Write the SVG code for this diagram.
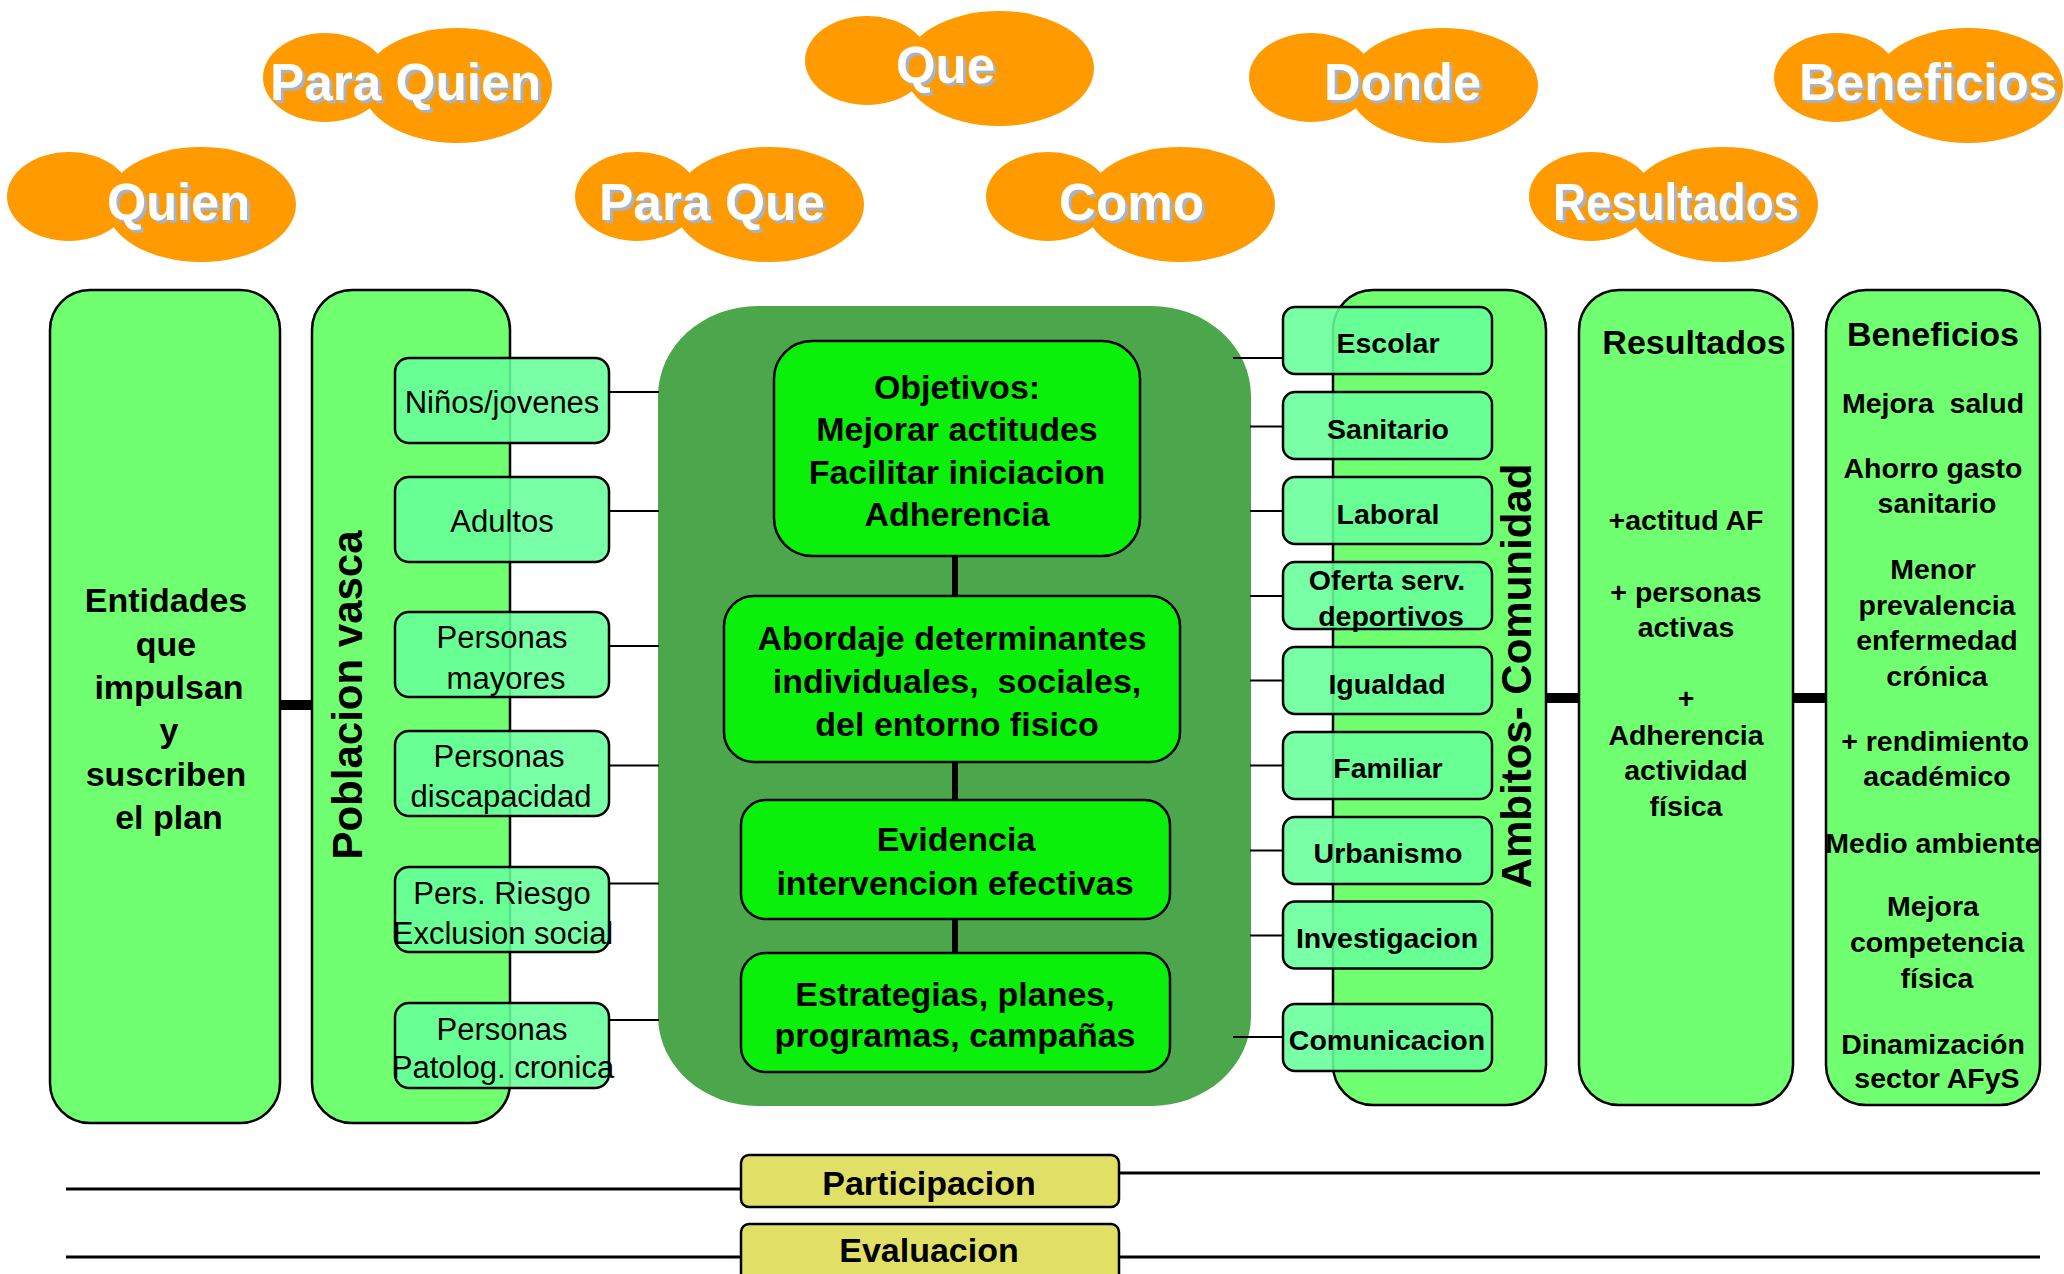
<svg xmlns="http://www.w3.org/2000/svg" xmlns:xlink="http://www.w3.org/1999/xlink" width="2064" height="1274" viewBox="0 0 2064 1274">
<style>
.cloud{fill:#ff9b00}
.ct{font-family:"Liberation Sans",Arial,sans-serif;font-weight:bold;font-size:52px;fill:#ffffff}
.cs{font-family:"Liberation Sans",Arial,sans-serif;font-weight:bold;font-size:52px;fill:#a9b2c4}
.main{fill:#70ff70;stroke:#000;stroke-width:2.5}
.sub{fill:#66ff99;fill-opacity:0.88;stroke:#000;stroke-width:2.5}
.inner{fill:#0af00a;stroke:#000;stroke-width:2.5}
.big{fill:#4ca64c}
.yel{fill:#e0e066;stroke:#000;stroke-width:2.5}
.t{font-family:"Liberation Sans",Arial,sans-serif;fill:#000;text-anchor:middle}
.b{font-weight:bold}
.f31{font-size:31px}
.f28{font-size:28.5px}
.f34{font-size:34px}
.f42{font-size:42px}
.thin{stroke:#000;stroke-width:2.2;fill:none}
.thick{stroke:#000;stroke-width:10;fill:none}
.mid{stroke:#000;stroke-width:6;fill:none}
.hl{stroke:#000;stroke-width:3;fill:none}
</style>
<defs>
<g id="cloudShape"><ellipse cx="0" cy="0" rx="62" ry="44.5"/><ellipse cx="132" cy="8" rx="95" ry="57.5"/></g>
</defs>
<rect width="2064" height="1274" fill="#ffffff"/>

<!-- Clouds -->
<g id="cloud-quien"><use xlink:href="#cloudShape" href="#cloudShape" class="cloud" x="69" y="196.5"/><text class="cs" x="110" y="223" textLength="143" lengthAdjust="spacingAndGlyphs">Quien</text><text class="ct" x="107" y="220" textLength="143" lengthAdjust="spacingAndGlyphs">Quien</text></g>
<g id="cloud-paraquien"><use xlink:href="#cloudShape" href="#cloudShape" class="cloud" x="325" y="77.5"/><text class="cs" x="273" y="103" textLength="271" lengthAdjust="spacingAndGlyphs">Para Quien</text><text class="ct" x="270" y="100" textLength="271" lengthAdjust="spacingAndGlyphs">Para Quien</text></g>
<g id="cloud-paraque"><use xlink:href="#cloudShape" href="#cloudShape" class="cloud" x="637" y="196.5"/><text class="cs" x="602" y="223" textLength="226" lengthAdjust="spacingAndGlyphs">Para Que</text><text class="ct" x="599" y="220" textLength="226" lengthAdjust="spacingAndGlyphs">Para Que</text></g>
<g id="cloud-que"><use xlink:href="#cloudShape" href="#cloudShape" class="cloud" x="867" y="60.5"/><text class="cs" x="899" y="86" textLength="99" lengthAdjust="spacingAndGlyphs">Que</text><text class="ct" x="896" y="83" textLength="99" lengthAdjust="spacingAndGlyphs">Que</text></g>
<g id="cloud-como"><use xlink:href="#cloudShape" href="#cloudShape" class="cloud" x="1048" y="196.5"/><text class="cs" x="1062" y="223" textLength="145" lengthAdjust="spacingAndGlyphs">Como</text><text class="ct" x="1059" y="220" textLength="145" lengthAdjust="spacingAndGlyphs">Como</text></g>
<g id="cloud-donde"><use xlink:href="#cloudShape" href="#cloudShape" class="cloud" x="1311" y="77.5"/><text class="cs" x="1327" y="103" textLength="157" lengthAdjust="spacingAndGlyphs">Donde</text><text class="ct" x="1324" y="100" textLength="157" lengthAdjust="spacingAndGlyphs">Donde</text></g>
<g id="cloud-resultados"><use xlink:href="#cloudShape" href="#cloudShape" class="cloud" x="1591" y="196.5"/><text class="cs" x="1556" y="223" textLength="246" lengthAdjust="spacingAndGlyphs">Resultados</text><text class="ct" x="1553" y="220" textLength="246" lengthAdjust="spacingAndGlyphs">Resultados</text></g>
<g id="cloud-beneficios"><use xlink:href="#cloudShape" href="#cloudShape" class="cloud" x="1836" y="77.5"/><text class="cs" x="1802" y="103" textLength="258" lengthAdjust="spacingAndGlyphs">Beneficios</text><text class="ct" x="1799" y="100" textLength="258" lengthAdjust="spacingAndGlyphs">Beneficios</text></g>

<!-- Entidades -->
<g id="node-entidades">
<rect class="main" x="50" y="290" width="230" height="833" rx="40"/>
<text class="t b f34"><tspan x="166" y="612">Entidades</tspan><tspan x="166" y="655.5">que</tspan><tspan x="169" y="699">impulsan</tspan><tspan x="169" y="742">y</tspan><tspan x="166" y="785.5">suscriben</tspan><tspan x="169" y="829">el plan</tspan></text>
</g>

<!-- Poblacion -->
<g id="node-poblacion">
<rect class="main" x="312" y="290" width="198" height="833" rx="40"/>
<text class="t b f42" transform="translate(362,695) rotate(-90)">Poblacion vasca</text>
</g>
<g id="node-ninos"><rect class="sub" x="395" y="358" width="214" height="85" rx="14"/><text class="t f31" x="502" y="413">Niños/jovenes</text></g>
<g id="node-adultos"><rect class="sub" x="395" y="477" width="214" height="85" rx="14"/><text class="t f31" x="502" y="532">Adultos</text></g>
<g id="node-mayores"><rect class="sub" x="395" y="612" width="214" height="85" rx="14"/><text class="t f31"><tspan x="502" y="648">Personas</tspan><tspan x="506" y="689">mayores</tspan></text></g>
<g id="node-discapacidad"><rect class="sub" x="395" y="731" width="214" height="85" rx="14"/><text class="t f31"><tspan x="499" y="767">Personas</tspan><tspan x="501" y="807">discapacidad</tspan></text></g>
<g id="node-riesgo"><rect class="sub" x="395" y="867" width="214" height="85" rx="14"/><text class="t f31"><tspan x="502" y="904">Pers. Riesgo</tspan><tspan x="503" y="944">Exclusion social</tspan></text></g>
<g id="node-patolog"><rect class="sub" x="395" y="1003" width="214" height="85" rx="14"/><text class="t f31"><tspan x="502" y="1040">Personas</tspan><tspan x="503" y="1078">Patolog. cronica</tspan></text></g>

<!-- Central block -->
<g id="node-centro">
<rect class="big" x="658" y="306" width="593" height="800" rx="100" ry="90"/>
</g>
<g id="node-objetivos"><rect class="inner" x="774" y="341" width="366" height="215" rx="38"/><text class="t b f34"><tspan x="957" y="398.5">Objetivos:</tspan><tspan x="957" y="441">Mejorar actitudes</tspan><tspan x="957" y="483.5">Facilitar iniciacion</tspan><tspan x="957" y="526">Adherencia</tspan></text></g>
<g id="node-abordaje"><rect class="inner" x="724" y="596" width="456" height="166" rx="30"/><text class="t b f34" xml:space="preserve"><tspan x="952" y="650">Abordaje determinantes</tspan><tspan x="957" y="693">individuales,  sociales,</tspan><tspan x="957" y="736">del entorno fisico</tspan></text></g>
<g id="node-evidencia"><rect class="inner" x="741" y="800" width="429" height="119" rx="25"/><text class="t b f34"><tspan x="956" y="851">Evidencia</tspan><tspan x="955" y="894.5">intervencion efectivas</tspan></text></g>
<g id="node-estrategias"><rect class="inner" x="741" y="953" width="429" height="119" rx="25"/><text class="t b f34"><tspan x="955" y="1005.5">Estrategias, planes,</tspan><tspan x="955" y="1047">programas, campañas</tspan></text></g>

<!-- Ambitos -->
<g id="node-ambitos">
<rect class="main" x="1333" y="290" width="213" height="815" rx="40"/>
<text class="t b f42" transform="translate(1531,676) rotate(-90)">Ambitos- Comunidad</text>
</g>
<g id="node-escolar"><rect class="sub" x="1283" y="307" width="209" height="67" rx="12"/><text class="t b f28" x="1388" y="353">Escolar</text></g>
<g id="node-sanitario"><rect class="sub" x="1283" y="392" width="209" height="67" rx="12"/><text class="t b f28" x="1388" y="439">Sanitario</text></g>
<g id="node-laboral"><rect class="sub" x="1283" y="477" width="209" height="67" rx="12"/><text class="t b f28" x="1388" y="524">Laboral</text></g>
<g id="node-oferta"><rect class="sub" x="1283" y="562" width="209" height="67" rx="12"/><text class="t b f28"><tspan x="1387" y="590">Oferta serv.</tspan><tspan x="1391" y="625.5">deportivos</tspan></text></g>
<g id="node-igualdad"><rect class="sub" x="1283" y="647" width="209" height="67" rx="12"/><text class="t b f28" x="1387" y="694">Igualdad</text></g>
<g id="node-familiar"><rect class="sub" x="1283" y="732" width="209" height="67" rx="12"/><text class="t b f28" x="1388" y="777.5">Familiar</text></g>
<g id="node-urbanismo"><rect class="sub" x="1283" y="817" width="209" height="67" rx="12"/><text class="t b f28" x="1388" y="862.5">Urbanismo</text></g>
<g id="node-investigacion"><rect class="sub" x="1283" y="901.5" width="209" height="67" rx="12"/><text class="t b f28" x="1387" y="947.5">Investigacion</text></g>
<g id="node-comunicacion"><rect class="sub" x="1283" y="1004" width="209" height="67" rx="12"/><text class="t b f28" x="1387" y="1049.5">Comunicacion</text></g>

<!-- Resultados -->
<g id="node-resultados">
<rect class="main" x="1579" y="290" width="214" height="815" rx="40"/>
<text class="t b f34" x="1694" y="354">Resultados</text>
<text class="t b f28"><tspan x="1686" y="529.5">+actitud AF</tspan><tspan x="1686" y="602">+ personas</tspan><tspan x="1686" y="636.5">activas</tspan><tspan x="1686" y="708">+</tspan><tspan x="1686" y="745">Adherencia</tspan><tspan x="1686" y="780">actividad</tspan><tspan x="1686" y="816">física</tspan></text>
</g>

<!-- Beneficios -->
<g id="node-beneficios">
<rect class="main" x="1826" y="290" width="214" height="815" rx="40"/>
<text class="t b f34" x="1933" y="345.8">Beneficios</text>
<text class="t b f28"><tspan x="1933" y="412.7" xml:space="preserve">Mejora  salud</tspan><tspan x="1933" y="477.5">Ahorro gasto</tspan><tspan x="1937" y="513">sanitario</tspan><tspan x="1933" y="579">Menor</tspan><tspan x="1937" y="614.6">prevalencia</tspan><tspan x="1937" y="650">enfermedad</tspan><tspan x="1937" y="686">crónica</tspan><tspan x="1935" y="750.7">+ rendimiento</tspan><tspan x="1937" y="785.8">académico</tspan><tspan x="1933" y="853">Medio ambiente</tspan><tspan x="1933" y="916">Mejora</tspan><tspan x="1937" y="952">competencia</tspan><tspan x="1937" y="987.6">física</tspan><tspan x="1933" y="1053.5">Dinamización</tspan><tspan x="1937" y="1087.5">sector AFyS</tspan></text>
</g>

<!-- Bottom -->
<g id="node-participacion"><rect class="yel" x="741" y="1155" width="378" height="52" rx="8"/><text class="t b f34" x="929" y="1195">Participacion</text></g>
<g id="node-evaluacion"><rect class="yel" x="741" y="1224" width="378" height="62" rx="8"/><text class="t b f34" x="929" y="1262">Evaluacion</text></g>

<!-- Connectors -->
<g id="connectors">
<line class="thick" x1="280" y1="705" x2="312" y2="705"/>
<line class="thick" x1="1546" y1="698" x2="1579" y2="698"/>
<line class="thick" x1="1793" y1="698" x2="1826" y2="698"/>
<line class="thin" x1="609" y1="392" x2="659" y2="392"/>
<line class="thin" x1="609" y1="511" x2="659" y2="511"/>
<line class="thin" x1="609" y1="646" x2="659" y2="646"/>
<line class="thin" x1="609" y1="765.5" x2="659" y2="765.5"/>
<line class="thin" x1="609" y1="883.5" x2="659" y2="883.5"/>
<line class="thin" x1="609" y1="1020" x2="659" y2="1020"/>
<line class="thin" x1="1233" y1="358" x2="1283" y2="358"/>
<line class="thin" x1="1250" y1="426.5" x2="1283" y2="426.5"/>
<line class="thin" x1="1250" y1="511" x2="1283" y2="511"/>
<line class="thin" x1="1250" y1="596" x2="1283" y2="596"/>
<line class="thin" x1="1250" y1="680.5" x2="1283" y2="680.5"/>
<line class="thin" x1="1250" y1="765.5" x2="1283" y2="765.5"/>
<line class="thin" x1="1250" y1="850.5" x2="1283" y2="850.5"/>
<line class="thin" x1="1250" y1="935.5" x2="1283" y2="935.5"/>
<line class="thin" x1="1233" y1="1037" x2="1283" y2="1037"/>
<line class="mid" x1="955" y1="556" x2="955" y2="596"/>
<line class="mid" x1="955" y1="762" x2="955" y2="800"/>
<line class="mid" x1="955" y1="919" x2="955" y2="953"/>
<line class="hl" x1="66" y1="1189" x2="741" y2="1189"/>
<line class="hl" x1="1119" y1="1173" x2="2040" y2="1173"/>
<line class="hl" x1="66" y1="1257" x2="741" y2="1257"/>
<line class="hl" x1="1119" y1="1257" x2="2040" y2="1257"/>
</g>
</svg>
